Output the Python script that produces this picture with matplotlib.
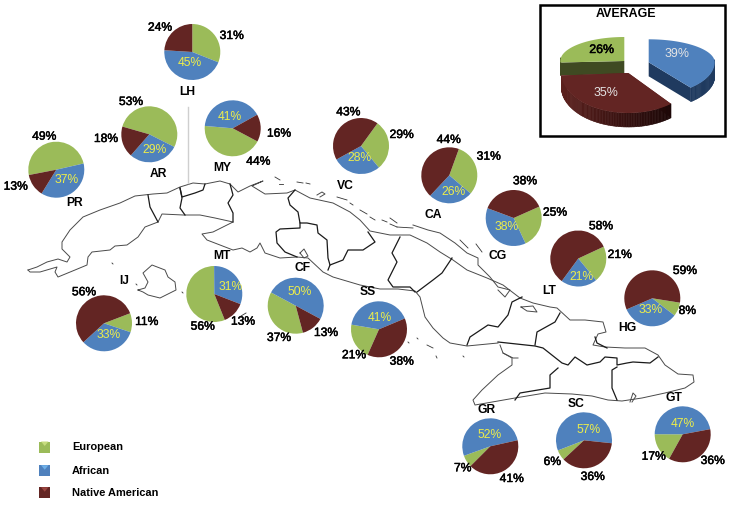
"""
Ancestry pies over the map of Cuba, one pie per province plus an average inset.
Layout works in image pixels (x right, y down), flipped to data y in main().
"""

import numpy as np
import matplotlib
matplotlib.use("Agg")
import matplotlib.pyplot as plt
import matplotlib.patheffects as pe
from matplotlib.collections import PolyCollection
from matplotlib.patches import Polygon, Rectangle

plt.rcParams["font.family"] = ["Liberation Sans", "DejaVu Sans"]

W, H = 730, 507
GREEN, BLUE, RED = "#9bbb59", "#4f81bd", "#632523"
YELLOW = "#eded4a"
HEAVY = [pe.withStroke(linewidth=0.35, foreground="black")]

REGIONS = ["LH", "AR", "PR", "MY", "VC", "CA", "CG", "LT", "HG", "GT", "SC", "GR", "SS", "CF", "MT", "IJ"]
EUROPEAN = [31, 53, 49, 44, 29, 31, 25, 21, 8, 17, 6, 7, 21, 37, 56, 11]
AFRICAN = [45, 29, 37, 41, 28, 26, 38, 21, 33, 47, 57, 52, 41, 50, 31, 33]
NATIVE = [24, 18, 13, 16, 43, 44, 38, 58, 59, 36, 36, 41, 38, 13, 13, 56]

AVG_NAMES = ["African", "Native American", "European"]
AVG_VALUES = [39, 35, 26]

LEGEND_NAMES = ["European", "African", "Native American"]

# pie centre, start angle of the European slice (clockwise order E, A, N)
CENTERS = {"LH": (192.3, 52), "AR": (149.3, 134.3), "PR": (56.3, 169.7), "MY": (232.7, 128.3),
           "VC": (361, 146), "CA": (449.3, 175.3), "CG": (513.7, 218), "LT": (578.3, 258.5),
           "HG": (652.3, 298.3), "GT": (682.7, 434.3), "SC": (584, 440.3), "GR": (490.3, 446.3),
           "SS": (379, 329.3), "CF": (295.7, 305.7), "MT": (214.3, 294), "IJ": (104, 323.3)}
START = {"LH": 90, "AR": 164, "PR": 191, "MY": -28, "VC": 54, "CA": 70, "CG": 24, "LT": 25,
         "HG": -9, "GT": -119, "SC": -137, "GR": -135, "SS": -114, "CF": -75, "MT": -68, "IJ": 21}
# label spots: region name, european, african (inside the pie), native
NAME_POS = {"LH": (187, 92.3), "AR": (158.3, 174), "PR": (74.7, 203.3), "MY": (222, 168),
            "VC": (345, 186), "CA": (433.3, 215.3), "CG": (497.7, 256), "LT": (548.7, 291.3),
            "HG": (627.3, 327.7), "GT": (673.7, 398.3), "SC": (575.7, 404), "GR": (486.7, 410.3),
            "SS": (368, 292), "CF": (303, 268.3), "MT": (221.7, 256), "IJ": (124, 281)}
EUR_POS = {"LH": (231.7, 36), "AR": (131, 102), "PR": (44.3, 136.7), "MY": (258.3, 161.7),
           "VC": (401.7, 135), "CA": (488.7, 156.7), "CG": (555, 212.7), "LT": (619.7, 255),
           "HG": (687.3, 311), "GT": (653.7, 456.7), "SC": (552.3, 462), "GR": (462.7, 468.3),
           "SS": (354, 355.3), "CF": (279, 338), "MT": (202.7, 326.7), "IJ": (146.7, 322)}
AFR_POS = {"LH": (190, 62.7), "AR": (154.7, 149.7), "PR": (67, 180.3), "MY": (229.7, 117.3),
           "VC": (360, 158.3), "CA": (453.7, 192), "CG": (506.7, 227), "LT": (581, 277.3),
           "HG": (650.7, 310), "GT": (683, 424.3), "SC": (588.3, 429.7), "GR": (490, 435.3),
           "SS": (380, 318.3), "CF": (300, 292), "MT": (230.7, 286.7), "IJ": (108.3, 334.7)}
NAT_POS = {"LH": (160, 27.7), "AR": (106, 139), "PR": (15.7, 186.7), "MY": (279, 133.7),
           "VC": (348.3, 112.3), "CA": (448.7, 140), "CG": (525, 181.3), "LT": (601, 226.3),
           "HG": (685, 271), "GT": (712.7, 461), "SC": (592.7, 477), "GR": (511.7, 479),
           "SS": (401.7, 361.7), "CF": (326, 333), "MT": (243, 321.7), "IJ": (84, 292.3)}

# map outline, traced by hand in image pixels
COAST = [
    [(28, 270), (37, 267), (47, 262), (58, 259), (67, 262), (70, 257), (62, 249), (62, 242), (70, 230),
     (83, 217), (100, 210), (120, 203), (135, 196), (153, 194), (167, 193), (180, 187), (193, 183),
     (205, 184), (220, 181), (230, 184), (238, 192), (250, 186), (263, 181), (252, 186), (265, 194),
     (287, 193), (295, 190), (310, 198), (333, 203), (350, 212), (360, 220), (370, 231), (390, 235),
     (410, 235), (427, 243), (440, 252), (453, 260), (467, 270), (487, 278), (503, 285), (520, 298),
     (533, 303), (550, 307), (557, 308), (570, 320), (585, 320), (603, 322), (606, 332), (598, 334),
     (593, 345), (605, 347), (625, 348), (645, 348), (658, 355), (665, 365), (678, 374), (693, 375),
     (694, 382), (685, 388), (665, 393), (642, 398), (622, 401), (608, 400), (592, 396), (572, 394),
     (545, 393), (515, 398), (498, 401), (475, 405), (473, 400), (482, 390), (498, 375), (512, 365),
     (512, 358), (503, 353), (500, 345)],
    [(498, 343), (467, 346), (450, 343), (443, 338), (433, 328), (425, 317), (420, 297), (415, 291),
     (398, 289), (380, 289), (360, 285), (333, 277), (323, 272), (308, 258), (297, 257), (280, 258),
     (265, 253), (260, 243), (257, 248), (250, 252), (242, 248), (233, 250), (220, 245), (207, 240),
     (202, 234), (213, 232), (233, 222), (215, 218), (200, 215), (183, 215), (162, 214), (158, 222),
     (145, 227), (138, 237), (127, 245), (115, 246), (110, 250), (92, 252), (88, 257), (87, 265),
     (75, 270), (58, 277), (55, 272), (57, 267), (40, 272), (30, 272), (28, 270)],
    [(138, 290), (143, 292), (148, 295), (160, 298), (176, 290), (175, 282), (168, 277), (165, 270),
     (152, 265), (143, 273), (148, 282), (145, 288), (138, 290)],
    [(413, 225), (428, 230), (440, 233), (455, 243), (467, 253), (478, 258), (478, 265), (490, 277),
     (498, 287), (510, 290), (505, 297), (498, 290)],
    [(503, 353), (513, 358), (518, 358)],
    [(300, 253), (304, 249), (308, 256), (304, 258), (300, 253)],
    [(630, 402), (633, 393), (636, 396), (632, 402)],
    [(521, 307), (533, 306), (537, 312), (527, 311), (521, 307)],
    [(317, 195), (322, 192), (325, 194), (320, 197)],
]
# small cays, drawn thinner than the coast
CAYS = [
    [(275, 177), (280, 180)], [(279, 184), (283, 184)], [(297, 182), (303, 183)], [(306, 183), (310, 184)],
    [(337, 197), (347, 200)], [(350, 203), (353, 205)], [(360, 210), (367, 214)], [(370, 217), (375, 220)],
    [(382, 220), (387, 222)], [(390, 218), (397, 223)], [(397, 227), (413, 228)], [(390, 224), (397, 227)],
    [(460, 240), (468, 248)], [(476, 244), (482, 252)], [(246, 313), (241, 316)],
    [(408, 342), (409, 343)], [(417, 338), (418, 339)], [(427, 345), (433, 348)], [(436, 356), (437, 358)],
    [(463, 356), (464, 357)], [(136, 284), (137, 285)], [(112, 263), (113, 264)], [(182, 292), (183, 293)],
]
BORDERS = [
    [(148, 195), (150, 207), (158, 222)],
    [(180, 188), (182, 198), (180, 208), (185, 215)],
    [(180, 188), (182, 197), (195, 193), (203, 190), (205, 184)],
    [(230, 184), (233, 195), (228, 203), (233, 213), (233, 222)],
    [(295, 190), (288, 198), (290, 205), (298, 212), (300, 223), (307, 223), (317, 225), (318, 233),
     (327, 240), (328, 258), (330, 265), (328, 270)],
    [(300, 223), (300, 228), (280, 229), (276, 232), (277, 243), (285, 252), (297, 257)],
    [(330, 265), (343, 260), (348, 250), (363, 250), (375, 242), (368, 232)],
    [(400, 237), (392, 253), (397, 262), (388, 280), (393, 287), (410, 287), (415, 292)],
    [(452, 258), (442, 273), (433, 280), (417, 292)],
    [(467, 345), (470, 337), (488, 325), (498, 327), (508, 315), (512, 302), (522, 297)],
    [(560, 313), (555, 322), (537, 332), (535, 345)],
    [(498, 342), (535, 346), (543, 348), (562, 363), (568, 365), (575, 357), (587, 365), (600, 362),
     (605, 357), (617, 358), (617, 365), (627, 363), (633, 362), (650, 363), (658, 357)],
    [(558, 368), (550, 375), (550, 388), (520, 393), (515, 400)],
    [(617, 367), (612, 370), (612, 388), (617, 400)],
    [(595, 337), (597, 343), (607, 348)],
]


def flip(pts):
    return [(x, H - y) for x, y in pts]


def rim(apex, a, b_up, b_down, t):
    """Points on the squashed 3D pie edge for angles t (degrees)."""
    r = np.radians(t)
    s = np.sin(r)
    return np.column_stack([apex[0] + a * np.cos(r),
                            H - apex[1] + np.where(s > 0, b_up, b_down) * s])


def draw_slice3d(ax, apex, a, b_up, b_down, depth, t1, t2, top, wall, wall_right=None):
    t = np.linspace(t1, t2, 90)
    edge = rim(apex, a, b_up, b_down, t)
    ctr = np.array([apex[0], H - apex[1]])
    drop = np.array([0, depth])

    # straight cut faces first, then the curved skirt, then the top face
    for end in (edge[0], edge[-1]):
        ax.add_patch(Polygon([ctr, end, end - drop, ctr - drop], color=wall, lw=0, zorder=6))
    quads, cols = [], []
    for p, q in zip(edge[:-1], edge[1:]):
        if p[1] <= ctr[1] + 3:
            quads.append([p, q, q - drop, p - drop])
            if wall_right is None:
                cols.append(matplotlib.colors.to_rgb(wall))
            else:
                f = np.clip((p[0] - edge[:, 0].min()) / np.ptp(edge[:, 0]), 0, 1)
                cols.append(tuple((1 - f) * np.array(matplotlib.colors.to_rgb(wall))
                                  + f * np.array(matplotlib.colors.to_rgb(wall_right))))
    ax.add_collection(PolyCollection(quads, facecolors=cols, edgecolors=cols, linewidths=0.4, zorder=6))
    ax.add_patch(Polygon(np.vstack([ctr, edge]), color=top, lw=0, zorder=6))


def main():
    fig = plt.figure(figsize=(W / 100, H / 100), dpi=100)
    ax = fig.add_axes([0, 0, 1, 1])

    for line in COAST:
        ax.plot(*zip(*flip(line)), color="#4a4a4a", lw=0.7, zorder=1)
    for line in CAYS:
        ax.plot(*zip(*flip(line)), color="#333333", lw=0.6, zorder=1)
    for line in BORDERS:
        ax.plot(*zip(*flip(line)), color="#1a1a1a", lw=0.9, zorder=1)
    ax.plot([188, 188], [H - 107, H - 183], color="#cfcfcf", lw=1, zorder=1)

    for name, e, af, n in zip(REGIONS, EUROPEAN, AFRICAN, NATIVE):
        cx, cy = CENTERS[name]
        ax.pie([e, af, n], colors=[GREEN, BLUE, RED], startangle=START[name], counterclock=False,
               center=(cx, H - cy), radius=28, wedgeprops={"linewidth": 0})
        for pos, val in [(EUR_POS, e), (NAT_POS, n)]:
            ax.text(pos[name][0], H - pos[name][1], f"{val}%", color="black", fontsize=8.7,
                    ha="center", va="center", path_effects=HEAVY)
        ax.text(AFR_POS[name][0], H - AFR_POS[name][1], f"{af}%", color=YELLOW, fontsize=8.7,
                ha="center", va="center", zorder=5)
        ax.text(NAME_POS[name][0], H - NAME_POS[name][1], name, fontsize=8.7, fontweight="bold",
                ha="center", va="center")

    # average inset: fake 3D pie, clockwise from the top
    ax.add_patch(Rectangle((540, H - 136), 185, 131.5, fc="white", ec="black", lw=1.8, zorder=5))
    ends = 90 - 3.6 * np.cumsum([0] + AVG_VALUES)
    draw_slice3d(ax, (624.3, 61), 64, 24, 24, 13, ends[2], ends[3], GREEN, "#3f4a22")
    draw_slice3d(ax, (628.3, 73), 67, 24, 40, 14, ends[1], ends[2], RED, "#5c201d", "#1c0707")
    draw_slice3d(ax, (648.7, 62.3), 66, 23, 33, 14, ends[0], ends[1], BLUE, "#1f3a5f")
    ax.text(625.7, H - 14, "AVERAGE", fontsize=8.9, fontweight="bold", ha="center", va="center", zorder=7)
    ax.text(677.3, H - 54, f"{AVG_VALUES[0]}%", color="#e4e4e4", fontsize=8.9, ha="center", va="center", zorder=7)
    ax.text(606.3, H - 93, f"{AVG_VALUES[1]}%", color="#e4e4e4", fontsize=8.9, ha="center", va="center", zorder=7)
    ax.text(601.7, H - 50, f"{AVG_VALUES[2]}%", color="black", fontsize=8.9, ha="center", va="center", zorder=7,
            path_effects=HEAVY)

    for name, col, light, y in zip(LEGEND_NAMES, [GREEN, BLUE, RED], ["#c6dc7e", "#6fb0e8", "#9a4540"],
                                   [447, 470.7, 492.7]):
        ax.add_patch(Rectangle((39.2, H - y - 5.5), 11, 11, fc=col, ec="none", zorder=3))
        ax.add_patch(Polygon([(41, H - y + 5.5), (48.5, H - y + 5.5), (44.7, H - y + 1)], color=light, lw=0, zorder=4))
        ax.text(72, H - y, name, fontsize=7.9, fontweight="bold", ha="left", va="center")

    ax.set_xlim(0, W)
    ax.set_ylim(0, H)
    ax.set_aspect("auto")
    ax.axis("off")
    fig.savefig("out.png", dpi=100, facecolor="white")


if __name__ == "__main__":
    main()
